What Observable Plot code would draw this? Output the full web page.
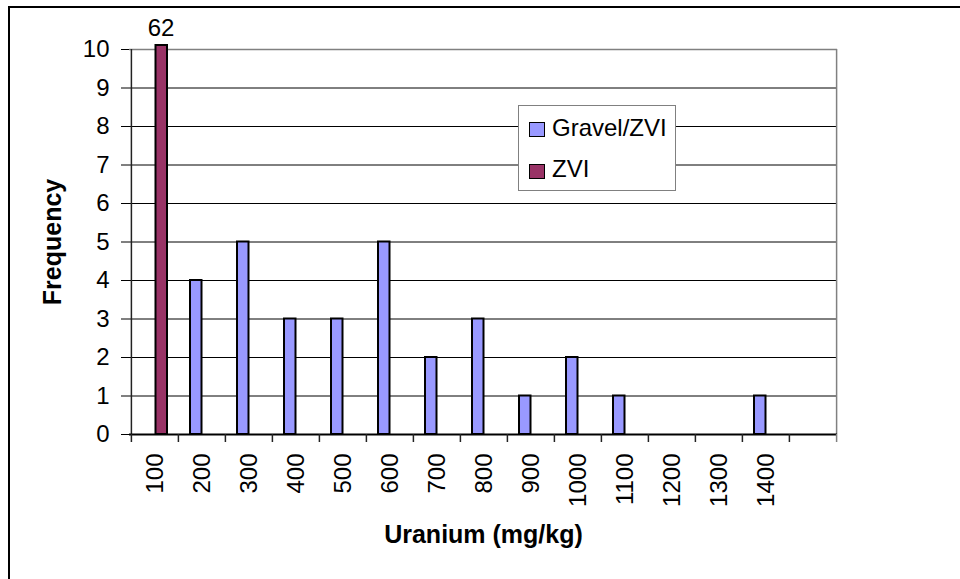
<!DOCTYPE html>
<html>
<head>
<meta charset="utf-8">
<script src="https://cdn.jsdelivr.net/npm/d3@7"></script>
<script src="https://cdn.jsdelivr.net/npm/@observablehq/plot@0.6"></script>
<style>
  html, body { margin: 0; padding: 0; background: #fff; }
  #wrap { position: relative; width: 960px; height: 579px; overflow: hidden; font-family: "Liberation Sans", Arial, sans-serif; }
  #border { position: absolute; left: 8px; top: 6px; width: 1000px; height: 1000px; border-top: 2px solid #000; border-left: 2px solid #000; pointer-events: none; }
  #legend { position: absolute; left: 518px; top: 105px; width: 156px; height: 84px; border: 1.5px solid #808080; background: #fff; }
  .sw { position: absolute; left: 10px; width: 13.5px; height: 13px; border: 1.5px solid #000; }
  .lt { position: absolute; left: 33px; font-size: 24px; line-height: 24px; color: #000; white-space: nowrap; }
</style>
</head>
<body>
<div id="wrap"></div>
<script>
// ---- data ----
const categories = ["100","200","300","400","500","600","700","800","900","1000","1100","1200","1300","1400"];
const gravelZVI = [0, 4, 5, 3, 3, 5, 2, 3, 1, 2, 1, 0, 0, 1];
const zvi = [62, 0, 0, 0, 0, 0, 0, 0, 0, 0, 0, 0, 0, 0];
const seriesNames = ["Gravel/ZVI", "ZVI"];
const seriesColors = ["#9999FF", "#993366"];
const yTicks = [0, 1, 2, 3, 4, 5, 6, 7, 8, 9, 10];
const xTitle = "Uranium (mg/kg)";
const yTitle = "Frequency";

// ---- layout ----
const W = 960, H = 579;
const mL = 129, mR = 123, mT = 49, mB = 145;
const xDomain = [...categories, ""]; // extra empty slot at the end
const bw = (W - mL - mR) / xDomain.length;

const rows = [];
categories.forEach((c, i) => {
  rows.push({cat: c, series: seriesNames[0], value: gravelZVI[i]});
  rows.push({cat: c, series: seriesNames[1], value: zvi[i]});
});
const gRows = rows.filter(d => d.series === seriesNames[0] && d.value > 0);
const zRows = rows.filter(d => d.series === seriesNames[1] && d.value > 0);
const overflow = zRows.filter(d => d.value > yTicks[yTicks.length - 1]);

const font = '"Liberation Sans", Arial, sans-serif';

const chart = Plot.plot({
  width: W, height: H,
  marginLeft: mL, marginRight: mR, marginTop: mT, marginBottom: mB,
  style: {fontFamily: font, fontSize: "24px", background: "transparent", color: "#000"},
  x: {domain: xDomain, padding: 0, tickRotate: -90, tickSize: 0, tickPadding: 19, label: null},
  y: {domain: [0, 10], ticks: yTicks, tickSize: 8, tickPadding: 12, label: null, clamp: true},
  marks: [
    // gridlines
    Plot.ruleY(yTicks.filter(v => v > 0 && v < 10), {stroke: "#000", strokeWidth: 1}),
    Plot.ruleY([10], {stroke: "#808080", strokeWidth: 1.5}),
    // right border of plot area
    Plot.ruleX([xDomain[xDomain.length - 1]], {dx: bw / 2, y1: 0, y2: 10, stroke: "#808080", strokeWidth: 1.5}),
    // bars
    Plot.barY(gRows, {x: "cat", y: "value", fill: seriesColors[0], stroke: "#000", strokeWidth: 2, insetLeft: 12, insetRight: 23.5}),
    Plot.barY(zRows, {x: "cat", y: "value", fill: seriesColors[1], stroke: "#000", strokeWidth: 2, insetLeft: 24.5, insetRight: 11, insetTop: -4}),
    // axis lines
    Plot.ruleX([xDomain[0]], {dx: -bw / 2, y1: 0, y2: 10, stroke: "#222", strokeWidth: 1.5}),
    Plot.ruleY([0], {stroke: "#000", strokeWidth: 2}),
    // category boundary ticks
    Plot.ruleX(xDomain, {x: d => d, dx: -bw / 2, y1: 0, y2: 0, insetBottom: -8, stroke: "#222", strokeWidth: 1.5}),
    Plot.ruleX([xDomain[xDomain.length - 1]], {x: d => d, dx: bw / 2, y1: 0, y2: 0, insetBottom: -8, stroke: "#808080", strokeWidth: 1.5}),
    // overflow label
    Plot.text(overflow, {x: "cat", y: "value", text: d => String(d.value), dx: 6, dy: -21, fontSize: 24, fill: "#000"}),
    // titles
    Plot.text([yTitle], {text: d => d, frameAnchor: "left", textAnchor: "middle", lineAnchor: "middle", dx: -77, rotate: -90, fontSize: 25, fontWeight: "bold", fill: "#000"}),
    Plot.text([xTitle], {text: d => d, frameAnchor: "bottom", textAnchor: "middle", lineAnchor: "middle", dy: 100, fontSize: 25, fontWeight: "bold", fill: "#000"})
  ]
});

const wrap = document.getElementById("wrap");
wrap.appendChild(chart);

// legend
const legend = document.createElement("div");
legend.id = "legend";
const swTops = [16, 58];
const txtTops = [10, 51];
seriesNames.forEach((name, i) => {
  const sw = document.createElement("div");
  sw.className = "sw";
  sw.style.top = swTops[i] + "px";
  sw.style.background = seriesColors[i];
  legend.appendChild(sw);
  const t = document.createElement("div");
  t.className = "lt";
  t.style.top = txtTops[i] + "px";
  t.textContent = name;
  legend.appendChild(t);
});
wrap.appendChild(legend);

const border = document.createElement("div");
border.id = "border";
wrap.appendChild(border);
</script>
</body>
</html>
